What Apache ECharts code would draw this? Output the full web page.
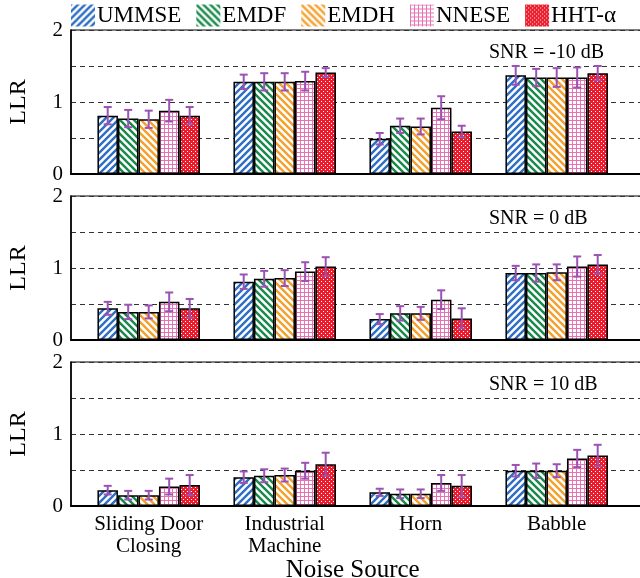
<!DOCTYPE html>
<html>
<head>
<meta charset="utf-8">
<script src="https://cdn.jsdelivr.net/npm/echarts@6/dist/echarts.min.js"></script>
<style>
  html, body { margin: 0; padding: 0; background: #fff; }
  #chart { width: 640px; height: 578px; }
</style>
</head>
<body>
<div id="chart"></div>
<script>
// categories and methods
const categories = ['Sliding Door\nClosing', 'Industrial\nMachine', 'Horn', 'Babble'];
const methods = ['UMMSE', 'EMDF', 'EMDH', 'NNESE', 'HHT-α'];
const snrLabels = ['SNR = -10 dB', 'SNR = 0 dB', 'SNR = 10 dB'];

// mean LLR, one row per method (UMMSE, EMDF, EMDH, NNESE, HHT-α)
const llrSnrM10 = [
    [0.81, 1.28, 0.49, 1.37],
    [0.77, 1.28, 0.67, 1.34],
    [0.76, 1.28, 0.66, 1.34],
    [0.88, 1.29, 0.92, 1.34],
    [0.81, 1.41, 0.59, 1.40]
];
const llrSnr0 = [
    [0.44, 0.81, 0.29, 0.93],
    [0.39, 0.85, 0.37, 0.93],
    [0.39, 0.86, 0.37, 0.94],
    [0.53, 0.95, 0.56, 1.02],
    [0.44, 1.02, 0.30, 1.05]
];
const llrSnr10 = [
    [0.22, 0.40, 0.19, 0.49],
    [0.15, 0.42, 0.17, 0.49],
    [0.15, 0.43, 0.17, 0.49],
    [0.27, 0.49, 0.32, 0.66],
    [0.29, 0.58, 0.28, 0.70]
];

// error bar half widths
const errSnrM10 = [
    [0.12, 0.10, 0.08, 0.13],
    [0.12, 0.12, 0.10, 0.12],
    [0.12, 0.12, 0.11, 0.13],
    [0.15, 0.13, 0.16, 0.14],
    [0.12, 0.06, 0.08, 0.10]
];
const errSnr0 = [
    [0.09, 0.10, 0.07, 0.10],
    [0.10, 0.11, 0.10, 0.12],
    [0.09, 0.11, 0.09, 0.11],
    [0.13, 0.13, 0.13, 0.14],
    [0.13, 0.13, 0.14, 0.13]
];
const errSnr10 = [
    [0.06, 0.08, 0.05, 0.08],
    [0.06, 0.09, 0.06, 0.10],
    [0.06, 0.09, 0.06, 0.09],
    [0.11, 0.11, 0.11, 0.12],
    [0.14, 0.16, 0.15, 0.15]
];

const panelValues = [llrSnrM10, llrSnr0, llrSnr10];
const panelErrors = [errSnrM10, errSnr0, errSnr10];

const FONT = 'Liberation Serif';
const BAR_W = 20.5;
const panelTops = [30, 196, 362];
const PANEL_H = 144;

// fill patterns
function stripePattern(color, dir) {
    const s = 7;
    const c = document.createElement('canvas');
    c.width = c.height = s;
    const ctx = c.getContext('2d');
    ctx.fillStyle = '#fff';
    ctx.fillRect(0, 0, s, s);
    ctx.strokeStyle = color;
    ctx.lineWidth = 2.4;
    ctx.beginPath();
    if (dir === '/') {
        ctx.moveTo(0, s); ctx.lineTo(s, 0);
        ctx.moveTo(-2, 2); ctx.lineTo(2, -2);
        ctx.moveTo(s - 2, s + 2); ctx.lineTo(s + 2, s - 2);
    } else {
        ctx.moveTo(0, 0); ctx.lineTo(s, s);
        ctx.moveTo(-2, s - 2); ctx.lineTo(2, s + 2);
        ctx.moveTo(s - 2, -2); ctx.lineTo(s + 2, 2);
    }
    ctx.stroke();
    return { image: c, repeat: 'repeat' };
}

function gridPattern(color) {
    const c = document.createElement('canvas');
    c.width = c.height = 4;
    const ctx = c.getContext('2d');
    ctx.fillStyle = '#fff';
    ctx.fillRect(0, 0, 4, 4);
    ctx.fillStyle = color;
    ctx.fillRect(0, 0, 4, 1);
    ctx.fillRect(0, 0, 1, 4);
    return { image: c, repeat: 'repeat' };
}

function dotPattern(color) {
    const c = document.createElement('canvas');
    c.width = c.height = 4;
    const ctx = c.getContext('2d');
    ctx.fillStyle = color;
    ctx.fillRect(0, 0, 4, 4);
    ctx.fillStyle = '#fff';
    ctx.fillRect(1, 1, 1, 1);
    ctx.fillRect(3, 3, 1, 1);
    return { image: c, repeat: 'repeat' };
}

const fills = [
    stripePattern('#2e6fc2', '/'),
    stripePattern('#17894a', '\\'),
    stripePattern('#f6a02e', '\\'),
    gridPattern('#e872b4'),
    dotPattern('#ec1c2c')
];

var grids = [];
var xAxes = [];
var yAxes = [];
var series = [];
var titles = [];

// frame grids (border, dashed lines, y labels)
panelTops.forEach(function (top, p) {
    grids.push({
        left: 71, right: -10, top: top, height: PANEL_H,
        outerBoundsMode: 'none',
        show: true, borderColor: '#000', borderWidth: 1.2
    });
    xAxes.push({
        gridIndex: p, type: 'value', min: 0, max: 1,
        axisLine: { show: true, onZero: false, lineStyle: { color: '#000', width: 2 } },
        axisTick: { show: false }, axisLabel: { show: false }, splitLine: { show: false }
    });
    yAxes.push({
        gridIndex: p, type: 'value', min: 0, max: 2, interval: 0.5,
        name: 'LLR', nameLocation: 'middle', nameRotate: 90, nameGap: 40,
        nameTextStyle: { fontFamily: FONT, fontSize: 24, color: '#000' },
        axisLine: { show: true, lineStyle: { color: '#000', width: 1.5 } },
        axisTick: { show: false },
        axisLabel: {
            fontFamily: FONT, fontSize: 21, color: '#000', margin: 8,
            formatter: function (v) { return v % 1 === 0 ? String(v) : ''; }
        },
        splitLine: { show: true, lineStyle: { color: '#333', type: [5, 4], width: 1 } }
    });
    titles.push({
        text: snrLabels[p], left: 484, top: top + 8,
        textStyle: { fontFamily: FONT, fontSize: 20, fontWeight: 'normal', color: '#000' }
    });
});

// data grids (bars and error bars)
panelTops.forEach(function (top, p) {
    var gi = p + 3;
    grids.push({ left: 80.7, right: 15.3, top: top, height: PANEL_H, outerBoundsMode: 'none' });
    xAxes.push({
        gridIndex: gi, type: 'category', data: categories,
        axisLine: { show: false }, axisTick: { show: false },
        axisLabel: {
            show: p === 2, interval: 0, fontFamily: FONT, fontSize: 21, lineHeight: 22,
            color: '#000', margin: 7
        },
        name: p === 2 ? 'Noise Source' : '',
        nameLocation: 'middle', nameGap: 52,
        nameTextStyle: { fontFamily: FONT, fontSize: 25, color: '#000' }
    });
    yAxes.push({
        gridIndex: gi, type: 'value', min: 0, max: 2, show: false
    });

    methods.forEach(function (name, m) {
        series.push({
            name: name,
            type: 'bar',
            xAxisIndex: gi,
            yAxisIndex: gi,
            barWidth: BAR_W,
            barGap: '0%',
            data: panelValues[p][m],
            itemStyle: { color: fills[m], borderColor: '#000', borderWidth: 1.5 },
            z: 2
        });
        series.push({
            name: 'err-' + name,
            type: 'custom',
            xAxisIndex: gi,
            yAxisIndex: gi,
            z: 5,
            data: panelValues[p][m].map(function (v, i) {
                return [i, v, panelErrors[p][m][i]];
            }),
            renderItem: function (params, api) {
                var off = (m - 2) * BAR_W;
                var x = api.coord([api.value(0), 0])[0] + off;
                var v = api.value(1), e = api.value(2);
                var yTop = api.coord([api.value(0), v + e])[1];
                var yBot = api.coord([api.value(0), v - e])[1];
                var st = { stroke: '#9a52b4', lineWidth: 2 };
                return {
                    type: 'group',
                    children: [
                        { type: 'line', shape: { x1: x, y1: yTop, x2: x, y2: yBot }, style: st },
                        { type: 'line', shape: { x1: x - 4, y1: yTop, x2: x + 4, y2: yTop }, style: st },
                        { type: 'line', shape: { x1: x - 4, y1: yBot, x2: x + 4, y2: yBot }, style: st }
                    ]
                };
            }
        });
    });
});

var option = {
    animation: false,
    backgroundColor: '#fff',
    title: titles,
    legend: {
        data: methods,
        left: 71,
        top: 4,
        padding: 0,
        icon: 'rect',
        itemWidth: 24,
        itemHeight: 22,
        itemGap: 15,
        itemStyle: { borderWidth: 0 },
        textStyle: { fontFamily: FONT, fontSize: 23, color: '#000', padding: [0, 0, 0, -3] }
    },
    grid: grids,
    xAxis: xAxes,
    yAxis: yAxes,
    series: series
};

var chart = echarts.init(document.getElementById('chart'));
chart.setOption(option);
</script>
</body>
</html>
